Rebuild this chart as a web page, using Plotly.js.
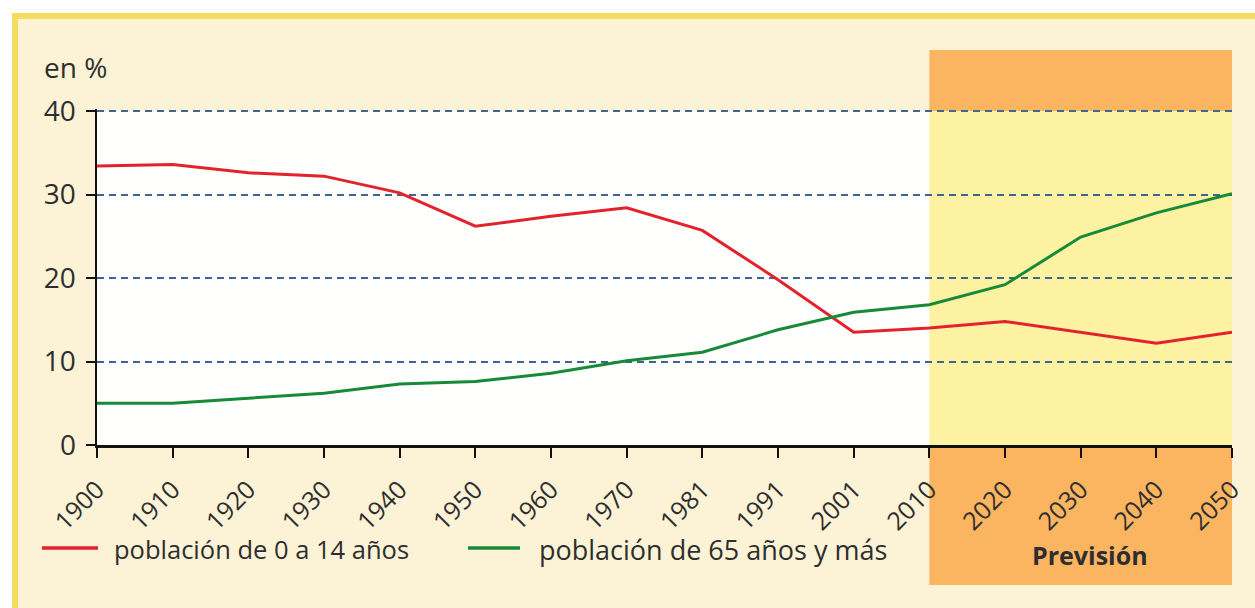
<!DOCTYPE html>
<html>
<head>
<meta charset="utf-8">
<script src="https://cdn.plot.ly/plotly-3.0.1.min.js"></script>
<style>html,body{margin:0;padding:0;background:#fff;}#chart{width:1255px;height:608px;}</style>
</head>
<body>
<div id="chart"></div>
<script>
// ---- data ----
const years = ["1900","1910","1920","1930","1940","1950","1960","1970","1981","1991","2001","2010","2020","2030","2040","2050"];
const young = [33.4, 33.6, 32.6, 32.2, 30.2, 26.2, 27.4, 28.4, 25.7, 19.8, 13.5, 14.0, 14.8, 13.5, 12.2, 13.5];
const old   = [5.0, 5.0, 5.6, 6.2, 7.3, 7.6, 8.6, 10.1, 11.1, 13.8, 15.9, 16.8, 19.2, 24.9, 27.8, 30.1];
const yTicks = [0, 10, 20, 30, 40];
const seriesNames = ["población de 0 a 14 años", "población de 65 años y más"];
const forecastStart = "2010";
const forecastLabel = "Previsión";
const unitLabel = "en %";

// ---- layout helpers (pixel -> paper) ----
const W = 1255, H = 608;
const M = {l: 97, r: 23, t: 109, b: 163};
const PW = W - M.l - M.r, PH = H - M.t - M.b;
const px = v => (v - M.l) / PW;
const py = v => (H - M.b - v) / PH;

const yMax = 40;
const yTop = yMax * PH / 334;   // leaves a 2px band so the top gridline is drawn

const fx = years.indexOf(forecastStart) / (years.length - 1);

const FONT = "Open Sans, Noto Sans, sans-serif";
const TXT = "#2e2e2e";
const RED = "#e3232c", GREEN = "#178a3a";

const traces = [
  {x: years, y: young, type: "scatter", mode: "lines", name: seriesNames[0],
   line: {color: RED, width: 3}, showlegend: false},
  {x: years, y: old, type: "scatter", mode: "lines", name: seriesNames[1],
   line: {color: GREEN, width: 3}, showlegend: false}
];

const shapes = [
  // framed cream panel
  {type: "rect", xref: "paper", yref: "paper", layer: "below",
   x0: px(15), x1: px(1300), y0: py(700), y1: py(16),
   fillcolor: "#fcf3d6", line: {color: "#f6dc5e", width: 6}},
  // white plot area
  {type: "rect", xref: "paper", yref: "paper", layer: "below",
   x0: 0, x1: 1, y0: 0, y1: py(111), fillcolor: "#fffffd", line: {width: 0}},
  // forecast yellow
  {type: "rect", xref: "paper", yref: "paper", layer: "below",
   x0: fx, x1: 1, y0: 0, y1: py(111), fillcolor: "#fdf2a2", line: {width: 0}},
  // forecast orange top
  {type: "rect", xref: "paper", yref: "paper", layer: "below",
   x0: fx, x1: 1, y0: py(111), y1: py(50), fillcolor: "#fbb560", line: {width: 0}},
  // forecast orange bottom
  {type: "rect", xref: "paper", yref: "paper", layer: "below",
   x0: fx, x1: 1, y0: py(585), y1: 0, fillcolor: "#fbb560", line: {width: 0}},
  // legend swatches
  {type: "line", xref: "paper", yref: "paper", x0: px(42), x1: px(98), y0: py(548), y1: py(548),
   line: {color: RED, width: 3.5}},
  {type: "line", xref: "paper", yref: "paper", x0: px(468), x1: px(520), y0: py(548), y1: py(548),
   line: {color: GREEN, width: 3.5}}
];

const annotations = [
  {xref: "paper", yref: "paper", x: px(42), y: py(67), xanchor: "left", yanchor: "middle",
   text: unitLabel, showarrow: false, font: {family: FONT, size: 28, color: TXT}},
  {xref: "paper", yref: "paper", x: px(112), y: py(549), xanchor: "left", yanchor: "middle",
   text: seriesNames[0], showarrow: false, font: {family: FONT, size: 25.5, color: TXT}},
  {xref: "paper", yref: "paper", x: px(537), y: py(549), xanchor: "left", yanchor: "middle",
   text: seriesNames[1], showarrow: false, font: {family: FONT, size: 27, color: TXT}},
  {xref: "paper", yref: "paper", x: px(1090), y: py(555), xanchor: "center", yanchor: "middle",
   text: "<b>" + forecastLabel + "</b>", showarrow: false, font: {family: FONT, size: 25, color: TXT}}
];

const layout = {
  width: W, height: H,
  margin: M,
  paper_bgcolor: "#ffffff",
  plot_bgcolor: "rgba(0,0,0,0)",
  showlegend: false,
  font: {family: FONT, color: TXT},
  xaxis: {
    type: "category", range: [0, years.length - 1],
    showgrid: false, zeroline: false,
    showline: true, linecolor: "#111", linewidth: 3,
    ticks: "outside", ticklen: 10, tickwidth: 2, tickcolor: "#111",
    ticklabelstandoff: 7,
    tickangle: -45, tickfont: {family: FONT, size: 25, color: TXT},
    fixedrange: true
  },
  yaxis: {
    range: [0, yTop], tickvals: yTicks, ticktext: yTicks.map(String),
    showgrid: true, gridcolor: "#3f6690", gridwidth: 2, griddash: "7px,5px",
    zeroline: false,
    showline: true, linecolor: "#111", linewidth: 2.5,
    ticks: "outside", ticklen: 9, tickwidth: 2, tickcolor: "#111",
    ticklabelstandoff: 4,
    tickfont: {family: FONT, size: 28, color: TXT},
    fixedrange: true
  },
  shapes: shapes,
  annotations: annotations
};

Plotly.newPlot("chart", traces, layout, {displayModeBar: false, staticPlot: true});
</script>
</body>
</html>
